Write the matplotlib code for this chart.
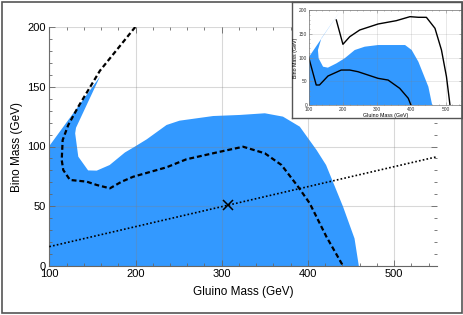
import matplotlib
matplotlib.use('Agg')
from matplotlib import pyplot as plt
from matplotlib.patches import Rectangle
from matplotlib.ticker import MultipleLocator

plt.rcParams['font.family'] = ['Liberation Sans', 'DejaVu Sans']

# main panel: excluded (blue) region outline
region_x = [100, 100, 158.7, 131, 130, 133.6, 145, 155, 170, 187.7, 199, 213, 236, 251,
            290, 321, 350, 371, 390.5, 410, 421, 440.7, 454, 459]
region_y = [0, 100.4, 158.4, 115.7, 111, 91.5, 80, 79.8, 84.5, 95, 99.8, 106, 118, 121.6,
            125.5, 126.4, 127.8, 125, 116.6, 97, 84.5, 49.6, 23, 0]

# main panel: dashed contour
contour_x = [199.7, 158.7, 133.6, 122, 115.5, 114.4, 116.2, 124, 143.3, 155, 170.3, 184,
             197.3, 236, 259, 297.8, 324.8, 350, 369.3, 388.5, 402, 421.4, 440.7]
contour_y = [200, 163.4, 133.3, 118, 105.4, 88.7, 80.3, 72, 70.6, 67.8, 65, 70.6,
             74.7, 82.6, 89.3, 95.6, 99.8, 94.3, 84.5, 66.4, 52.5, 24.5, 0]

# main panel: dotted line and benchmark point
line_x = [100, 550]
line_y = [16.2, 91.5]
point_x = [307]
point_y = [51.2]

# inset: blue region
inset_region_x = [100, 100, 194, 137, 127, 129, 142, 156, 181, 205, 234.5, 263.7, 302.6,
                  381.6, 401, 420.5, 449.7, 461]
inset_region_y = [0, 100.7, 200, 140.6, 116, 98.6, 81, 79, 88, 98.6, 116, 123, 126.5,
                  126.5, 116, 91.5, 39, 0]

# inset: upper solid curve
inset_up_x = [180.7, 200, 220, 249, 302.6, 356, 396, 420.5, 444, 469, 488, 502.6, 513]
inset_up_y = [179, 128, 144, 158, 170.6, 177.6, 186, 184.7, 184.6, 161.6, 116, 60, 0]

# inset: lower solid curve
inset_lo_x = [100, 122, 131.5, 156.4, 195, 220, 244, 302.6, 332, 366, 391, 399]
inset_lo_y = [100.7, 42.6, 42.6, 61.5, 74, 74, 70.5, 56.6, 53, 35.6, 14.7, 0]

blue = '#3399ff'
W, H = 464, 315

fig = plt.figure(figsize=(W / 100, H / 100), dpi=100)
fig.patches.append(Rectangle((2 / W, 2 / H), 460 / W, 311 / H, transform=fig.transFigure,
                             fill=False, edgecolor='#555555', linewidth=1.2))

ax = fig.add_axes([49.3 / W, (H - 266) / H, 388 / W, 239 / H])
ax.fill(region_x, region_y, color=blue, linewidth=0, zorder=1)
ax.plot(contour_x, contour_y, color='black', linewidth=1.6,
        linestyle=(0, (2.2, 1.3)), zorder=3)
ax.plot(line_x, line_y, color='black', linewidth=1.2, linestyle=(0, (1, 1.3)), zorder=3)
ax.plot(point_x, point_y, marker='x', color='black', markersize=7, markeredgewidth=1.1,
        linestyle='none', zorder=4)

ax.set_xlim(100, 550)
ax.set_ylim(0, 200)
ax.xaxis.set_major_locator(MultipleLocator(100))
ax.xaxis.set_minor_locator(MultipleLocator(20))
ax.yaxis.set_major_locator(MultipleLocator(50))
ax.yaxis.set_minor_locator(MultipleLocator(10))
ax.tick_params(which='both', direction='in', top=True, right=True, colors='#666666',
               labelcolor='black', labelsize=8, pad=2.5)
ax.tick_params(which='major', length=4, width=0.6)
ax.tick_params(which='minor', length=2.5, width=0.6)
ax.grid(True, which='major', color='gray', alpha=0.3, linewidth=0.8, zorder=2)
ax.set_axisbelow(False)
for side in ['right', 'top']:
    ax.spines[side].set_visible(False)
for side in ['left', 'bottom']:
    ax.spines[side].set_color('#666666')
    ax.spines[side].set_linewidth(0.8)
ax.set_xlabel('Gluino Mass (GeV)', fontsize=8.5, labelpad=5)
ax.set_ylabel('Bino Mass (GeV)', fontsize=8.5, labelpad=3)

# inset frame
box = fig.add_axes([292 / W, (H - 118) / H, 170 / W, 116 / H])
box.set_xticks([])
box.set_yticks([])
box.set_facecolor('white')
for s in box.spines.values():
    s.set_color('#555555')
    s.set_linewidth(1)

ins = fig.add_axes([308.7 / W, (H - 105.3) / H, 153.3 / W, 95.3 / H])
ins.fill(inset_region_x, inset_region_y, color=blue, linewidth=0, zorder=1)
ins.plot(inset_up_x, inset_up_y, color='black', linewidth=1)
ins.plot(inset_lo_x, inset_lo_y, color='black', linewidth=1)
ins.set_xlim(100, 548)
ins.set_ylim(0, 200)
ins.xaxis.set_major_locator(MultipleLocator(100))
ins.xaxis.set_minor_locator(MultipleLocator(20))
ins.yaxis.set_major_locator(MultipleLocator(50))
ins.yaxis.set_minor_locator(MultipleLocator(10))
ins.tick_params(which='both', direction='in', top=True, right=True, colors='#888888',
                labelcolor='#333333', labelsize=3.5, pad=1)
ins.tick_params(which='major', length=2, width=0.4)
ins.tick_params(which='minor', length=1, width=0.4)
ins.grid(True, which='major', color='gray', alpha=0.25, linewidth=0.5)
for s in ins.spines.values():
    s.set_color('#777777')
    s.set_linewidth(0.5)
ins.set_xlabel('Gluino Mass (GeV)', fontsize=3.8, labelpad=1)
ins.set_ylabel('Bino Mass (GeV)', fontsize=3.8, labelpad=1)

fig.savefig('out.png', dpi=100)
